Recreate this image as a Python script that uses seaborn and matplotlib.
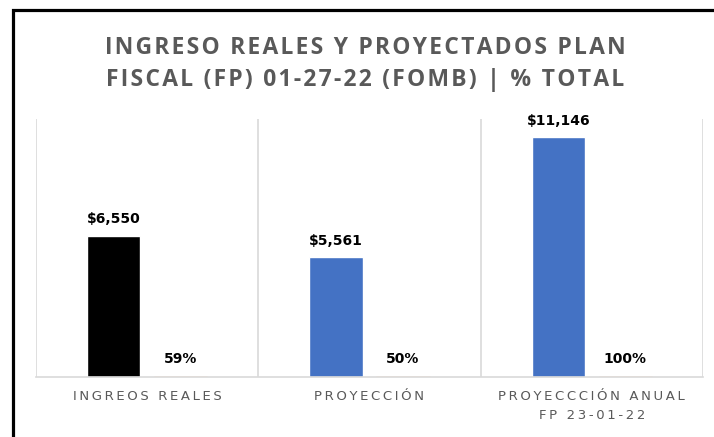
import matplotlib
matplotlib.use("Agg")
import matplotlib.pyplot as plt
from matplotlib.patches import Rectangle
import seaborn as sns
import pandas as pd

# data
categorias = ["INGREOS REALES", "PROYECCIÓN", "PROYECCCIÓN ANUAL\nFP 23-01-22"]
montos = [6550, 5561, 11146]
porcentajes = [0.59, 0.50, 1.00]
etiquetas_monto = ["$6,550", "$5,561", "$11,146"]
etiquetas_pct = ["59%", "50%", "100%"]
titulo = "INGRESO REALES Y PROYECTADOS PLAN\nFISCAL (FP) 01-27-22 (FOMB) | % TOTAL"

AZUL = "#4472C4"
NARANJA = "#F4B183"
GRIS = "#595959"


def spaced(text, sep="\u2009"):
    # fake letter spacing, like the excel chart
    lines = []
    for line in text.split("\n"):
        words = [sep.join(list(w)) for w in line.split(" ")]
        lines.append((sep + " " + sep).join(words))
    return "\n".join(lines)


df = pd.DataFrame({
    "categoria": categorias * 2,
    "serie": ["Monto"] * 3 + ["Porcentaje"] * 3,
    "valor": montos + porcentajes,
})

sns.set_style("white")
plt.rcParams["font.family"] = ["DejaVu Sans"]

fig = plt.figure(figsize=(7.14, 4.37), dpi=100)
ax = fig.add_axes([36 / 714, 1 - 377 / 437, (703 - 36) / 714, (377 - 119) / 437])

sns.barplot(data=df, x="categoria", y="valor", hue="serie",
            palette=[AZUL, NARANJA], width=0.6, gap=0.2, saturation=1,
            legend=False, ax=ax)

# first bar (real income) is black
ax.containers[0][0].set_facecolor("black")
for p in ax.containers[1]:
    p.set_edgecolor(NARANJA)
    p.set_linewidth(0.8)
    p.set_zorder(4)

ax.bar_label(ax.containers[0], labels=etiquetas_monto, padding=7,
             fontsize=10, fontweight="bold", color="black")
ax.bar_label(ax.containers[1], labels=etiquetas_pct, padding=8,
             fontsize=10, fontweight="bold", color="black")

ax.set_ylim(0, 12000)
ax.set_xlim(-0.5, 2.5)
ax.set_yticks([])
ax.set_xlabel("")
ax.set_ylabel("")

ax.set_xticks(range(len(categorias)))
ax.set_xticklabels([spaced(c) for c in categorias], fontsize=9.5,
                   color=GRIS, linespacing=1.6, va="top")
ax.tick_params(axis="x", length=0, pad=9.5)

# category separators
for xv in [-0.5, 0.5, 1.5, 2.5]:
    ax.axvline(xv, color="#D9D9D9", lw=1.2, zorder=0)
for s in ["top", "left", "right"]:
    ax.spines[s].set_visible(False)
ax.spines["bottom"].set_color("#D9D9D9")
ax.spines["bottom"].set_linewidth(1.2)

fig.text(0.512, 1 - 64 / 437, spaced(titulo, "\u200a"), ha="center", va="center",
         fontsize=16.5, fontweight="bold", color=GRIS, linespacing=1.5,
         family=["Open Sans", "DejaVu Sans"])

# black frame around the chart (cut off at right and bottom)
fig.add_artist(Rectangle((13 / 714, -0.1), 1.2, 1.1 - 10 / 437,
                         transform=fig.transFigure, fill=False,
                         edgecolor="black", lw=2.3))

fig.savefig("out.png", dpi=100)
